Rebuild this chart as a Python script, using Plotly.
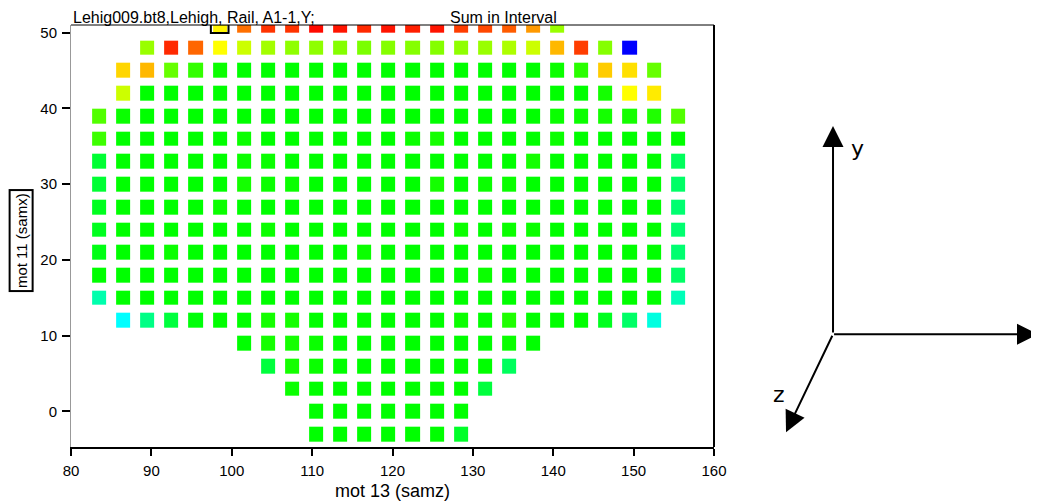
import plotly.graph_objects as go

# grid of the scan (mot 13 along x, mot 11 along y)
col_x = [83.5, 86.5, 89.5, 92.5, 95.5, 98.5, 101.5, 104.5, 107.5, 110.5, 113.5, 116.5, 119.5,
         122.5, 125.5, 128.5, 131.5, 134.5, 137.5, 140.5, 143.5, 146.5, 149.5, 152.5, 155.5]
row_y = [-3, 0, 3, 6, 9, 12, 15, 18, 21, 24, 27, 30, 33, 36, 39, 42, 45, 48, 51]

# first column index of every row, then the "sum in interval" values of that row
row_first_col = [9, 9, 8, 7, 6, 1, 0, 0, 0, 0, 0, 0, 0, 0, 0, 1, 1, 2, 5]
row_vals = [
    [50, 50, 50, 50, 50, 50, 46],
    [50, 50, 50, 50, 50, 50, 50],
    [51, 50, 50, 50, 50, 50, 50, 50, 44],
    [44, 52, 51, 50, 50, 50, 50, 50, 50, 50, 41],
    [50, 52, 52, 51, 50, 50, 50, 50, 50, 50, 50, 51, 50],
    [25, 37, 44, 49, 50, 50, 52, 52, 50, 50, 50, 50, 50, 50, 51, 50, 53, 50, 50, 50, 47, 40, 28],
    [33, 50, 50, 50, 50, 50, 50, 50, 50, 50, 50, 50, 50, 50, 50, 50, 50, 50, 50, 50, 50, 50, 50, 50, 32],
    [50, 50, 50, 50, 50, 50, 50, 50, 50, 50, 50, 50, 50, 50, 50, 50, 51, 50, 50, 50, 50, 50, 50, 50, 40],
    [48, 50, 50, 51, 50, 50, 50, 50, 50, 50, 50, 51, 50, 50, 50, 50, 50, 50, 50, 50, 50, 50, 50, 50, 39],
    [47, 50, 50, 50, 50, 50, 50, 51, 50, 50, 50, 50, 50, 50, 50, 51, 50, 51, 51, 50, 50, 50, 50, 50, 39],
    [47, 50, 50, 50, 50, 51, 50, 50, 50, 50, 50, 50, 50, 50, 50, 50, 50, 50, 50, 50, 50, 50, 50, 50, 39],
    [45, 50, 50, 50, 50, 50, 52, 51, 51, 50, 50, 50, 50, 50, 52, 50, 51, 51, 50, 50, 50, 50, 50, 50, 40],
    [45, 50, 50, 50, 50, 50, 51, 51, 50, 50, 50, 50, 50, 50, 50, 50, 50, 50, 52, 50, 50, 50, 50, 50, 41],
    [56, 50, 50, 50, 50, 50, 51, 50, 50, 50, 50, 50, 50, 51, 52, 50, 50, 50, 50, 51, 50, 50, 50, 50, 50],
    [58, 51, 50, 50, 50, 50, 50, 50, 50, 50, 50, 50, 50, 50, 50, 50, 50, 50, 50, 51, 51, 52, 52, 53, 58],
    [70, 50, 50, 50, 50, 50, 50, 50, 50, 50, 50, 50, 50, 50, 50, 50, 50, 50, 50, 50, 52, 75, 77],
    [79, 82, 60, 55, 51, 50, 50, 50, 50, 50, 50, 50, 50, 50, 50, 50, 50, 50, 51, 54, 80, 78, 60],
    [65, 96, 90, 75, 70, 66, 64, 64, 63, 62, 63, 63, 63, 64, 65, 67, 70, 82, 94, 63, 0],
    [76, 89, 95, 95, 99, 98, 96, 98, 97, 98, 94, 93, 91, 85, 65],
]
sel_x, sel_y = 98.5, 51  # selected point (outlined)

z = []
for first, vals in zip(row_first_col, row_vals):
    line = [None] * len(col_x)
    for i, v in enumerate(vals):
        line[first + i] = v
    z.append(line)

jet = [[0, "#0000ff"], [0.25, "#00ffff"], [0.5, "#00ff00"], [0.75, "#ffff00"], [1, "#ff0000"]]

fig = go.Figure(go.Heatmap(x=col_x, y=row_y, z=z, colorscale=jet, zmin=0, zmax=100,
                           xgap=10, ygap=8, showscale=False, hoverongaps=False))

font = "Liberation Sans"
fig.update_layout(
    width=1031, height=494,
    margin=dict(l=63, r=325, t=17, b=55),
    paper_bgcolor="white", plot_bgcolor="white",
    font=dict(family=font, size=15, color="black"),
    showlegend=False,
)
fig.update_xaxes(range=[80, 160], tickvals=[80, 90, 100, 110, 120, 130, 140, 150, 160],
                 showgrid=False, zeroline=False, showline=True, linecolor="black", linewidth=2,
                 ticks="outside", ticklen=7, tickwidth=2, tickcolor="black", ticklabelstandoff=2,
                 automargin=False, title=dict(text="mot 13 (samz)", standoff=6))
fig.update_yaxes(range=[-4.7, 51], tickvals=[0, 10, 20, 30, 40, 50],
                 showgrid=False, zeroline=False, showline=True, linecolor="#999999", linewidth=1,
                 ticks="outside", ticklen=8, tickwidth=2, tickcolor="black", ticklabelstandoff=2,
                 automargin=False)

# frame: top and right edges
fig.add_shape(type="line", xref="paper", yref="paper", x0=0, x1=1, y0=1, y1=1,
              line=dict(color="black", width=1))
fig.add_shape(type="line", xref="paper", yref="paper", x0=1, x1=1, y0=0, y1=1,
              line=dict(color="black", width=2))
# outline of the selected point
fig.add_shape(type="rect", x0=sel_x - 1.1, x1=sel_x + 1.1, y0=sel_y - 1.05, y1=sel_y + 0.1,
              line=dict(color="black", width=2))

fig.add_annotation(text="Lehig009.bt8,Lehigh, Rail, A1-1,Y;", xref="paper", yref="paper",
                   x=0, y=1, xanchor="left", yanchor="bottom", showarrow=False, yshift=-3,
                   font=dict(size=16))
fig.add_annotation(text="Sum in Interval", xref="paper", yref="paper",
                   x=0.673, y=1, xanchor="center", yanchor="bottom", showarrow=False, yshift=-3,
                   font=dict(size=16))
fig.add_annotation(text="mot 11 (samx)", xref="paper", yref="paper", x=-0.078, y=0.49,
                   xanchor="center", yanchor="middle", textangle=-90, showarrow=False,
                   bordercolor="black", borderwidth=2, borderpad=2)

# orientation sketch on the right
ox, oy = 1.1851, 0.2673
arrow = dict(xref="paper", yref="paper", text="", showarrow=True, arrowhead=2,
             arrowsize=2.1, arrowwidth=2, arrowcolor="black", standoff=0)
fig.add_annotation(x=ox, y=0.7605, ax=0, ay=208, **arrow)
fig.add_annotation(x=1.525, y=oy, ax=-219, ay=0, **arrow)
fig.add_annotation(x=1.112, y=0.0349, ax=47, ay=-98, **arrow)
lab = dict(xref="paper", yref="paper", showarrow=False, xanchor="center", yanchor="middle",
           font=dict(family="DejaVu Sans", size=22))
fig.add_annotation(text="y", x=1.2224, y=0.708, **lab)
fig.add_annotation(text="z", x=1.1011, y=0.125, **lab)
fig.add_annotation(text="x", x=1.505, y=0.322, **lab)

fig.write_html("out.html")
